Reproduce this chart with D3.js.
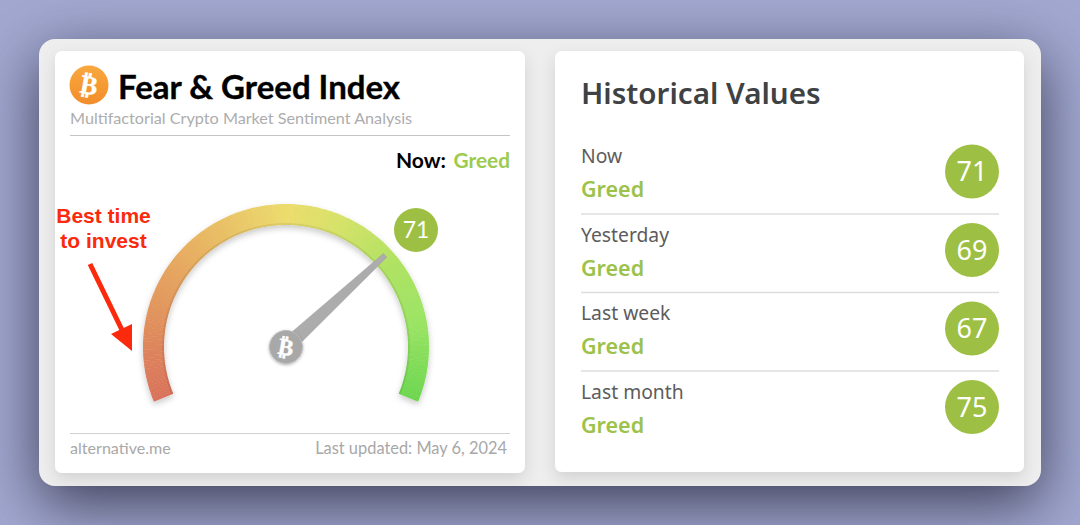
<!DOCTYPE html>
<html><head><meta charset="utf-8">
<script src="https://cdn.jsdelivr.net/npm/d3@7"></script>
<style>html,body{margin:0;padding:0;width:1080px;height:525px;overflow:hidden;background:#a2a8d0}svg{display:block;position:absolute;left:0;top:0}
#panel{position:absolute;left:39px;top:39px;width:1002px;height:447px;border-radius:16px;background:#eee;box-shadow:0 18px 60px rgba(28,28,48,.75)}</style>
</head><body><div id="panel"></div><svg id="c" width="1080" height="525"></svg>
<script>
const gaugeValue = 71;
const gaugeDomain = [0, 100];
const gaugeStops = [0, 25, 50, 60, 72, 85, 100];
const gaugeColors = ["#d9725a", "#e6a55e", "#ecdc6c", "#d6e268", "#b2e262", "#9be463", "#6cd64f"];
const histLabels = ["Now", "Yesterday", "Last week", "Last month"];
const histClasses = ["Greed", "Greed", "Greed", "Greed"];
const histValues = [71, 69, 67, 75];

const svg = d3.select("#c");
const defs = svg.append("defs");
const GREEN = "#9dc044";

function shadow(id, dy, sd, op, col){
  const f = defs.append("filter").attr("id",id).attr("x","-20%").attr("y","-20%").attr("width","140%").attr("height","140%");
  f.append("feDropShadow").attr("dx",0).attr("dy",dy).attr("stdDeviation",sd).attr("flood-color",col||"#000").attr("flood-opacity",op);
}
shadow("card",6,8,.12);
shadow("arc",3,3,.22);
shadow("hub",1,1.5,.3);

svg.append("rect").attr("x",55).attr("y",51).attr("width",470).attr("height",422).attr("rx",7).attr("fill","#fff").attr("filter","url(#card)");
svg.append("rect").attr("x",555).attr("y",51).attr("width",469).attr("height",421).attr("rx",7).attr("fill","#fff").attr("filter","url(#card)");

const txt = (x,y,s,o={}) => svg.append("text").attr("x",x).attr("y",y).text(s)
  .attr("font-family",o.f||"Lato").attr("font-size",o.s||14).attr("font-weight",o.w||400)
  .attr("fill",o.c||"#000").attr("text-anchor",o.a||"start");
const btc = (x,y,size,col,parent) => txt(x,y,"\u20BF",{f:"'DejaVu Sans'",s:size,w:700,c:col,a:"middle"})
  .attr("dominant-baseline","central").attr("transform",`rotate(10 ${x} ${y})`)
  .attr("stroke",col).attr("stroke-width",.4);

const og = defs.append("linearGradient").attr("id","og").attr("x1",0).attr("y1",0).attr("x2",0).attr("y2",1);
og.append("stop").attr("offset",0).attr("stop-color","#f9a83f");
og.append("stop").attr("offset",1).attr("stop-color","#f28d2a");
svg.append("circle").attr("cx",89).attr("cy",85).attr("r",19.5).attr("fill","url(#og)");
btc(89,85,26,"#fff");
txt(118,99,"Fear & Greed Index",{s:33,w:700}).attr("stroke","#000").attr("stroke-width",.35);
txt(70,124,"Multifactorial Crypto Market Sentiment Analysis",{s:16.2,c:"#adadad"});
svg.append("line").attr("x1",70).attr("x2",510).attr("y1",135.5).attr("y2",135.5).attr("stroke","#c4c4c4");
txt(510,168,"Greed",{s:20.8,w:700,c:"#9ccb4e",a:"end"});
txt(446,168,"Now:",{s:21,w:700,a:"end"});

txt(103.5,223,"Best time",{f:"'Liberation Sans'",s:21,w:700,c:"#fb2a0c",a:"middle"});
txt(103.5,248,"to invest",{f:"'Liberation Sans'",s:21,w:700,c:"#fb2a0c",a:"middle"});
svg.append("line").attr("x1",90).attr("y1",264).attr("x2",122).attr("y2",330).attr("stroke","#fb2a0c").attr("stroke-width",5);
svg.append("path").attr("d","M132,351 L111,334 L132,324 Z").attr("fill","#fb2a0c");

const cx = 286, cy = 347, rO = 143, rI = 122;
const angle = d3.scaleLinear().domain(gaugeDomain).range([-112.5*Math.PI/180, 112.5*Math.PI/180]);
const color = d3.scaleLinear().domain(gaugeStops).range(gaugeColors).interpolate(d3.interpolateRgb);
const arc = d3.arc().innerRadius(rI).outerRadius(rO);
const g = svg.append("g").attr("transform",`translate(${cx},${cy})`);
const ga = g.append("g").attr("filter","url(#arc)");
const steps = d3.range(gaugeDomain[0], gaugeDomain[1], 0.5);
ga.selectAll("path").data(steps).join("path")
  .attr("d",d=>arc({startAngle:angle(d),endAngle:angle(Math.min(d+0.56,100))}))
  .attr("fill",d=>color(d));
g.append("path").attr("fill","#000").attr("opacity",.07)
  .attr("d",d3.arc().innerRadius(rI).outerRadius(rI+2)({startAngle:angle(0),endAngle:angle(100)}));

const a = angle(gaugeValue), rTip = 135;
const needle = d3.path();
const wid = 7.5, tipW = 2.5;
const ux = Math.sin(a), uy = -Math.cos(a);
needle.moveTo(-uy*wid, ux*wid); needle.lineTo(ux*rTip-uy*tipW, uy*rTip+ux*tipW);
needle.lineTo(ux*rTip+uy*tipW, uy*rTip-ux*tipW); needle.lineTo(uy*wid,-ux*wid); needle.closePath();
g.append("path").attr("d",needle.toString()).attr("fill","#acacac").attr("stroke","#a2a2a2").attr("stroke-width",.5);
g.append("circle").attr("r",16.5).attr("fill","#a8a8a8").attr("stroke","#bcbcbc").attr("stroke-width",1).attr("filter","url(#hub)");
btc(cx,cy,23,"#fff");

const bx = 416, by = 230;
svg.append("circle").attr("cx",bx).attr("cy",by).attr("r",22).attr("fill",GREEN);
txt(bx,by+8,gaugeValue,{s:23,c:"#fff",a:"middle"});

svg.append("line").attr("x1",70).attr("x2",510).attr("y1",433.5).attr("y2",433.5).attr("stroke","#d0d0d0");
txt(70,454,"alternative.me",{s:16.1,c:"#a8a8a8"});
txt(507,454,"Last updated: May 6, 2024",{s:16.4,c:"#a8a8a8",a:"end"});

txt(581,104,"Historical Values",{f:"'Noto Sans'",s:29.6,w:600,c:"#3f4244"});
const y = d3.scaleBand().domain(histLabels).range([135,449]);
histLabels.forEach((l,i)=>{
  const t = y(l);
  txt(581,t+28,l,{f:"'Noto Sans'",s:19.3,c:"#5c5c5c"});
  txt(581,t+62,histClasses[i],{f:"'Noto Sans'",s:21.5,w:600,c:"#9cc24b"});
  svg.append("circle").attr("cx",972).attr("cy",t+36.5).attr("r",27).attr("fill",GREEN);
  txt(972,t+46,histValues[i],{f:"'Noto Sans'",s:27,c:"#fff",a:"middle"});
  if(i<3) svg.append("line").attr("x1",581).attr("x2",999).attr("y1",y(histLabels[i+1])+.5).attr("y2",y(histLabels[i+1])+.5).attr("stroke","#dedede").attr("stroke-width",1.5);
});
</script></body></html>
